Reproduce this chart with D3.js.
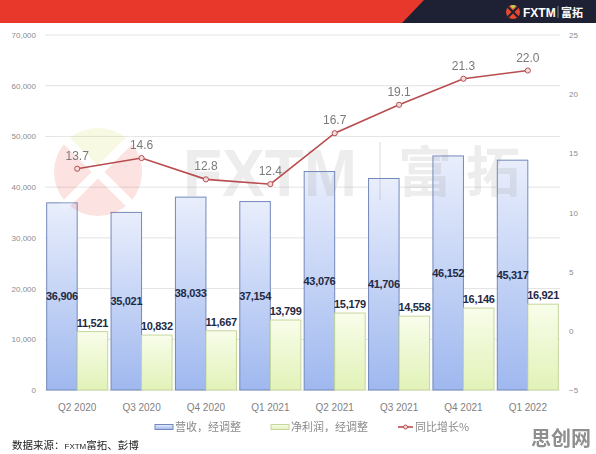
<!DOCTYPE html>
<html><head><meta charset="utf-8">
<script src="https://cdn.jsdelivr.net/npm/d3@7/dist/d3.min.js"></script>
<style>
html,body{margin:0;padding:0;background:#fff;}
svg{display:block;font-family:"Liberation Sans",Arial,sans-serif;}
</style></head>
<body>
<svg id="chart" width="596" height="454"></svg>
<script>
const categories = ["Q2 2020","Q3 2020","Q4 2020","Q1 2021","Q2 2021","Q3 2021","Q4 2021","Q1 2022"];
const revenue = [36906,35021,38033,37154,43076,41706,46152,45317];
const netProfit = [11521,10832,11667,13799,15179,14558,16146,16921];
const yoyGrowth = [13.7,14.6,12.8,12.4,16.7,19.1,21.3,22.0];
const leftTicks = [0,10000,20000,30000,40000,50000,60000,70000];
const rightTicks = [-5,0,5,10,15,20,25];
const seriesNames = ["营收，经调整","净利润，经调整","同比增长%"];

const svg = d3.select("#chart");
const W = 596, H = 454;
const plot = {left:45, right:560, top:35, bottom:390};

const defs = svg.append("defs");
const gb = defs.append("linearGradient").attr("id","gBlue").attr("x1",0).attr("y1",0).attr("x2",0).attr("y2",1);
gb.append("stop").attr("offset","0%").attr("stop-color","#e9eefc");
gb.append("stop").attr("offset","100%").attr("stop-color","#9fb8ef");
const gg = defs.append("linearGradient").attr("id","gGreen").attr("x1",0).attr("y1",0).attr("x2",0).attr("y2",1);
gg.append("stop").attr("offset","0%").attr("stop-color","#f8fdea");
gg.append("stop").attr("offset","100%").attr("stop-color","#e2f2b8");

// header
svg.append("rect").attr("x",0).attr("y",0).attr("width",W).attr("height",23).attr("fill","#e8382b");
svg.append("path").attr("d","M424,0 L596,0 L596,23 L402,23 Z").attr("fill","#1d2133");
const logo = svg.append("g").attr("transform","translate(513,12)");
logo.append("circle").attr("r",7).attr("fill","#e8482c");
logo.append("path").attr("d","M-5,-5 L5,5 M5,-5 L-5,5").attr("stroke","#1d2133").attr("stroke-width",2);
logo.append("path").attr("d","M-3,-6.3 A7,7 0 0 1 3,-6.3 L0,-3 Z").attr("fill","#b9d34a");
svg.append("text").attr("x",523).attr("y",16.5).attr("fill","#fff").attr("font-size",12).attr("font-weight","bold").text("FXTM");
svg.append("line").attr("x1",558).attr("x2",558).attr("y1",6).attr("y2",18).attr("stroke","#888").attr("stroke-width",1);
svg.append("text").attr("x",561).attr("y",16.5).attr("fill","#fff").attr("font-size",11).attr("font-weight","bold")
  .attr("font-family","'Noto Sans CJK SC',sans-serif").text("富拓");

// scales
const x = d3.scaleBand().domain(categories).range([plot.left, plot.right]).padding(0);
const x1 = d3.scaleBand().domain(["rev","np"]).range([0, x.bandwidth()]).paddingOuter(0.055);
const yL = d3.scaleLinear().domain([0,70000]).range([plot.bottom, plot.top]);
const yR = d3.scaleLinear().domain([-5,25]).range([plot.bottom, plot.top]);

// gridlines
svg.append("g").selectAll("line").data(leftTicks).join("line")
  .attr("x1",plot.left).attr("x2",plot.right)
  .attr("y1",d=>yL(d)).attr("y2",d=>yL(d))
  .attr("stroke","#e3e3e3").attr("stroke-width",1);

// left axis
const axL = svg.append("g").attr("transform",`translate(${plot.left-6},0)`)
  .call(d3.axisLeft(yL).tickValues(leftTicks).tickFormat(d3.format(",")).tickSize(0));
axL.select(".domain").remove();
axL.selectAll("text").attr("fill","#8c8c8c").attr("font-size",8).attr("dy","0.32em").attr("font-family","'Liberation Sans',Arial,sans-serif");

// right axis
const axR = svg.append("g").attr("transform",`translate(${plot.right+6},0)`)
  .call(d3.axisRight(yR).tickValues(rightTicks).tickSize(0));
axR.select(".domain").remove();
axR.selectAll("text").attr("fill","#8c8c8c").attr("font-size",8).attr("dy","0.32em").attr("font-family","'Liberation Sans',Arial,sans-serif");

// x axis labels
const axX = svg.append("g").attr("transform",`translate(0,${plot.bottom+11})`)
  .call(d3.axisBottom(x).tickSize(0));
axX.select(".domain").remove();
axX.selectAll("text").attr("fill","#7f7f7f").attr("font-size",10).attr("dy","0.71em").attr("font-family","'Liberation Sans',Arial,sans-serif");

// bars
const groups = svg.append("g").selectAll("g").data(categories).join("g")
  .attr("transform",d=>`translate(${x(d)},0)`);
groups.append("rect")
  .attr("x",x1("rev")).attr("width",x1.bandwidth())
  .attr("y",(d,i)=>yL(revenue[i])).attr("height",(d,i)=>yL(0)-yL(revenue[i]))
  .attr("fill","url(#gBlue)").attr("stroke","#7388bb").attr("stroke-width",1);
groups.append("rect")
  .attr("x",x1("np")).attr("width",x1.bandwidth())
  .attr("y",(d,i)=>yL(netProfit[i])).attr("height",(d,i)=>yL(0)-yL(netProfit[i]))
  .attr("fill","url(#gGreen)").attr("stroke","#c5d79d").attr("stroke-width",1);

// watermark
const wm = svg.append("g").attr("opacity",0.16).style("pointer-events","none");
const wl = wm.append("g").attr("transform","translate(98,172)");
const arc = d3.arc().innerRadius(0).outerRadius(44);
wl.append("path").attr("d",arc({startAngle:-Math.PI/4,endAngle:Math.PI/4})).attr("fill","#c8d84a");
wl.append("path").attr("d",arc({startAngle:Math.PI/4,endAngle:7*Math.PI/4})).attr("fill","#e8453a");
wl.append("path").attr("d","M-36,-36 L36,36 M36,-36 L-36,36").attr("stroke","#fff").attr("stroke-width",9);
wm.append("text").attr("x",183).attr("y",196).attr("font-size",66).attr("font-weight","bold")
  .attr("textLength",174).attr("lengthAdjust","spacingAndGlyphs")
  .attr("fill","#8a8a8a").text("FXTM");
wm.append("line").attr("x1",380).attr("x2",380).attr("y1",142).attr("y2",200).attr("stroke","#8a8a8a").attr("stroke-width",2);
wm.append("text").attr("x",398).attr("y",192).attr("font-size",54).attr("font-weight","bold")
  .attr("letter-spacing",14).attr("font-family","'Noto Sans CJK SC',sans-serif")
  .attr("fill","#8a8a8a").text("富拓");

// bar labels
groups.append("text")
  .attr("x",x1("rev")+x1.bandwidth()/2)
  .attr("y",(d,i)=>(yL(revenue[i])+yL(0))/2).attr("dy","0.35em")
  .attr("text-anchor","middle").attr("font-size",11).attr("font-weight","bold")
  .attr("fill","#1f2a44").attr("letter-spacing",-0.3)
  .text((d,i)=>d3.format(",")(revenue[i]));
groups.append("text")
  .attr("x",x1("np")+x1.bandwidth()/2)
  .attr("y",(d,i)=>yL(netProfit[i])-5)
  .attr("text-anchor","middle").attr("font-size",11).attr("font-weight","bold")
  .attr("fill","#1f2a44").attr("letter-spacing",-0.3)
  .text((d,i)=>d3.format(",")(netProfit[i]));

// line
const cx = d => x(d)+x.bandwidth()/2;
const line = d3.line().x((d,i)=>cx(categories[i])).y(d=>yR(d));
svg.append("path").datum(yoyGrowth).attr("d",line).attr("fill","none").attr("stroke","#b84c4f").attr("stroke-width",1.6);
svg.append("g").selectAll("circle").data(yoyGrowth).join("circle")
  .attr("cx",(d,i)=>cx(categories[i])).attr("cy",d=>yR(d)).attr("r",2.6)
  .attr("fill","#f4dcdc").attr("stroke","#b84c4f").attr("stroke-width",1);
svg.append("g").selectAll("text").data(yoyGrowth).join("text")
  .attr("x",(d,i)=>cx(categories[i])).attr("y",d=>yR(d)-9)
  .attr("text-anchor","middle").attr("font-size",12).attr("fill","#7a7a7a")
  .text(d=>d.toFixed(1));

// legend
const lg = svg.append("g").attr("font-family","'Noto Sans CJK SC',sans-serif").attr("font-size",11).attr("fill","#8a8a8a");
lg.append("rect").attr("x",155).attr("y",424.5).attr("width",18).attr("height",5).attr("fill","url(#gBlue)").attr("stroke","#7388bb");
lg.append("text").attr("x",175).attr("y",431).text(seriesNames[0]);
lg.append("rect").attr("x",271).attr("y",424.5).attr("width",18).attr("height",5).attr("fill","url(#gGreen)").attr("stroke","#c5d79d");
lg.append("text").attr("x",291).attr("y",431).text(seriesNames[1]);
lg.append("line").attr("x1",398).attr("x2",413).attr("y1",427).attr("y2",427).attr("stroke","#b84c4f").attr("stroke-width",1.6);
lg.append("circle").attr("cx",405.5).attr("cy",427).attr("r",2).attr("fill","#f4dcdc").attr("stroke","#b84c4f");
lg.append("text").attr("x",415).attr("y",431).text(seriesNames[2]);

// source
const src = svg.append("text").attr("x",12).attr("y",449).attr("font-size",10.5).attr("fill","#222")
  .attr("font-family","'Noto Sans CJK SC',sans-serif");
src.append("tspan").text("数据来源：");
src.append("tspan").attr("font-size",8).attr("font-family","'Liberation Sans Narrow','Liberation Sans',sans-serif").text("FXTM");
src.append("tspan").text("富拓、彭博");

// site mark
svg.append("text").attr("x",531).attr("y",446).attr("font-size",20).attr("font-weight","bold")
  .attr("font-family","'Noto Sans CJK SC',sans-serif").attr("fill","#8f8f8f").text("思创网");
</script>
</body></html>
